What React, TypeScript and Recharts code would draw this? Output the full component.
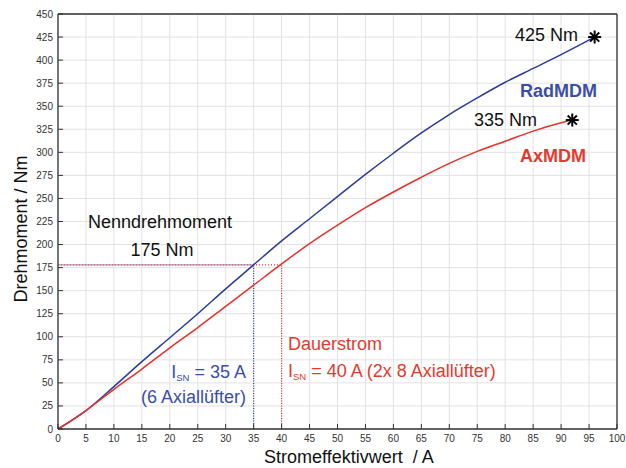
import React from 'react';
import { ComposedChart, Line, XAxis, YAxis, CartesianGrid, ReferenceLine, Scatter } from 'recharts';

const xTicks = [0, 5, 10, 15, 20, 25, 30, 35, 40, 45, 50, 55, 60, 65, 70, 75, 80, 85, 90, 95, 100];
const yTicks = [0, 25, 50, 75, 100, 125, 150, 175, 200, 225, 250, 275, 300, 325, 350, 375, 400, 425, 450];

const radCurrent = [0, 5, 10, 15, 20, 25, 30, 35, 40, 45, 50, 55, 60, 65, 70, 75, 80, 85, 90, 96];
const radTorque = [0, 20, 46, 73, 99, 125, 152, 178, 204, 228, 252, 276, 299, 321, 341, 359, 376, 391, 406, 425];

const axCurrent = [0, 5, 10, 15, 20, 25, 30, 35, 40, 45, 50, 55, 60, 65, 70, 75, 80, 85, 90, 92];
const axTorque = [0, 20, 43, 65, 88, 110, 133, 156, 179, 201, 221, 240, 257, 273, 288, 301, 312, 323, 332, 335];

const peakCurrent = [96, 92];
const peakTorque = [425, 335];

const nominalTorque = 178;
const radNominalCurrent = 35;
const axNominalCurrent = 40;

const BLUE = '#2b3b9e';
const BLUE_TXT = '#3a4dab';
const RED = '#e8302a';
const RED_TXT = '#e33a2e';
const AXIS = '#333333';
const FONT = '"Liberation Sans", Arial, sans-serif';

const radData = radCurrent.map((x, i) => ({ x, y: radTorque[i] }));
const axData = axCurrent.map((x, i) => ({ x, y: axTorque[i] }));
const peakData = peakCurrent.map((x, i) => ({ x, y: peakTorque[i] }));

const BottomTick = (p: any) => (
  <g>
    <line x1={p.x} y1={p.y} x2={p.x} y2={p.y - 5} stroke={AXIS} strokeWidth={1} />
    <text x={p.x} y={p.y + 13} textAnchor="middle" fontSize={10} fill="#333" fontFamily={FONT}>
      {p.payload.value}
    </text>
  </g>
);
const LeftTick = (p: any) => (
  <g>
    <line x1={p.x} y1={p.y} x2={p.x + 5} y2={p.y} stroke={AXIS} strokeWidth={1} />
    <text x={p.x - 5} y={p.y + 3.5} textAnchor="end" fontSize={10} fill="#333" fontFamily={FONT}>
      {p.payload.value}
    </text>
  </g>
);
const TopTick = (p: any) => <line x1={p.x} y1={p.y} x2={p.x} y2={p.y + 5} stroke={AXIS} strokeWidth={1} />;
const RightTick = (p: any) => <line x1={p.x} y1={p.y} x2={p.x - 5} y2={p.y} stroke={AXIS} strokeWidth={1} />;

const Asterisk = (p: any) => {
  const { cx, cy } = p;
  const r = 6.5;
  const angles = [0, 45, 90, 135];
  return (
    <g>
      {angles.map((a) => {
        const rad = (a * Math.PI) / 180;
        const dx = Math.cos(rad) * r;
        const dy = Math.sin(rad) * r;
        return <line key={a} x1={cx - dx} y1={cy - dy} x2={cx + dx} y2={cy + dy} stroke="#000" strokeWidth={2} />;
      })}
    </g>
  );
};

export default function App() {
  return (
    <div style={{ position: 'absolute', left: 0, top: 0 }}>
      <ComposedChart width={626} height={468} margin={{ top: 13, right: 8, left: 0, bottom: 0 }}>
        <CartesianGrid stroke="#e2e2e2" strokeWidth={1} />
        <XAxis
          dataKey="x"
          type="number"
          domain={[0, 100]}
          ticks={xTicks}
          interval={0}
          height={39}
          tickSize={0}
          tickMargin={0}
          tickLine={false}
          tick={<BottomTick />}
          axisLine={{ stroke: AXIS, strokeWidth: 1.3 }}
        />
        <XAxis
          xAxisId="top"
          orientation="top"
          dataKey="x"
          type="number"
          domain={[0, 100]}
          ticks={xTicks}
          interval={0}
          height={1}
          tickSize={0}
          tickMargin={0}
          tickLine={false}
          tick={<TopTick />}
          axisLine={{ stroke: AXIS, strokeWidth: 1.3 }}
        />
        <YAxis
          type="number"
          domain={[0, 450]}
          ticks={yTicks}
          interval={0}
          width={58}
          tickSize={0}
          tickMargin={0}
          tickLine={false}
          tick={<LeftTick />}
          axisLine={{ stroke: AXIS, strokeWidth: 1.3 }}
        />
        <YAxis
          yAxisId="right"
          orientation="right"
          type="number"
          domain={[0, 450]}
          ticks={yTicks}
          interval={0}
          width={1}
          tickSize={0}
          tickMargin={0}
          tickLine={false}
          tick={<RightTick />}
          axisLine={{ stroke: AXIS, strokeWidth: 1.3 }}
        />
        <ReferenceLine
          segment={[{ x: 0, y: nominalTorque }, { x: axNominalCurrent, y: nominalTorque }]}
          stroke={RED}
          strokeWidth={1.3}
          strokeDasharray="1 2"
          ifOverflow="visible"
        />
        <ReferenceLine
          segment={[{ x: 0, y: nominalTorque }, { x: radNominalCurrent, y: nominalTorque }]}
          stroke={BLUE}
          strokeWidth={1.3}
          strokeDasharray="1 2"
          strokeDashoffset={1.5}
          ifOverflow="visible"
        />
        <ReferenceLine
          segment={[{ x: radNominalCurrent, y: 0 }, { x: radNominalCurrent, y: nominalTorque }]}
          stroke={BLUE}
          strokeWidth={1.2}
          strokeDasharray="1 1.5"
          ifOverflow="visible"
        />
        <ReferenceLine
          segment={[{ x: axNominalCurrent, y: 0 }, { x: axNominalCurrent, y: nominalTorque }]}
          stroke={RED}
          strokeWidth={1.2}
          strokeDasharray="1 1.5"
          ifOverflow="visible"
        />
        <Line data={radData} dataKey="y" type="monotone" stroke={BLUE} strokeWidth={1.5} dot={false} isAnimationActive={false} />
        <Line data={axData} dataKey="y" type="monotone" stroke={RED} strokeWidth={1.5} dot={false} isAnimationActive={false} />
        <Scatter data={peakData} dataKey="y" shape={<Asterisk />} isAnimationActive={false} />

        <text x={88} y={228} fontSize={18} fill="#111" fontFamily={FONT}>Nenndrehmoment</text>
        <text x={162} y={256} fontSize={18} fill="#111" fontFamily={FONT} textAnchor="middle">175 Nm</text>
        <text x={578} y={41} fontSize={18} fill="#111" fontFamily={FONT} textAnchor="end">425 Nm</text>
        <text x={537} y={126} fontSize={18} fill="#111" fontFamily={FONT} textAnchor="end">335 Nm</text>
        <text x={520} y={97} fontSize={18} fontWeight="bold" fill={BLUE_TXT} fontFamily={FONT}>RadMDM</text>
        <text x={520} y={161.5} fontSize={18} fontWeight="bold" fill={RED_TXT} fontFamily={FONT}>AxMDM</text>
        <text x={246} y={378} fontSize={18} fill={BLUE_TXT} fontFamily={FONT} textAnchor="end">
          I<tspan fontSize={9.5} dy={3}>SN</tspan><tspan dy={-3}> = 35 A</tspan>
        </text>
        <text x={246} y={403} fontSize={18} fill={BLUE_TXT} fontFamily={FONT} textAnchor="end">(6 Axiallüfter)</text>
        <text x={288} y={350} fontSize={18} fill={RED_TXT} fontFamily={FONT}>Dauerstrom</text>
        <text x={288} y={377} fontSize={18} fill={RED_TXT} fontFamily={FONT}>
          I<tspan fontSize={9.5} dy={3}>SN</tspan><tspan dy={-3}> = 40 A (2x 8 Axiallüfter)</tspan>
        </text>
        <text x={264} y={463} fontSize={18} fill="#111" fontFamily={FONT} style={{ whiteSpace: 'pre' }}>
          {'Stromeffektivwert  / A'}
        </text>
        <text x={26.5} y={229} fontSize={18} fill="#111" fontFamily={FONT} textAnchor="middle" transform="rotate(-90, 26.5, 229)">
          Drehmoment / Nm
        </text>
      </ComposedChart>
    </div>
  );
}
